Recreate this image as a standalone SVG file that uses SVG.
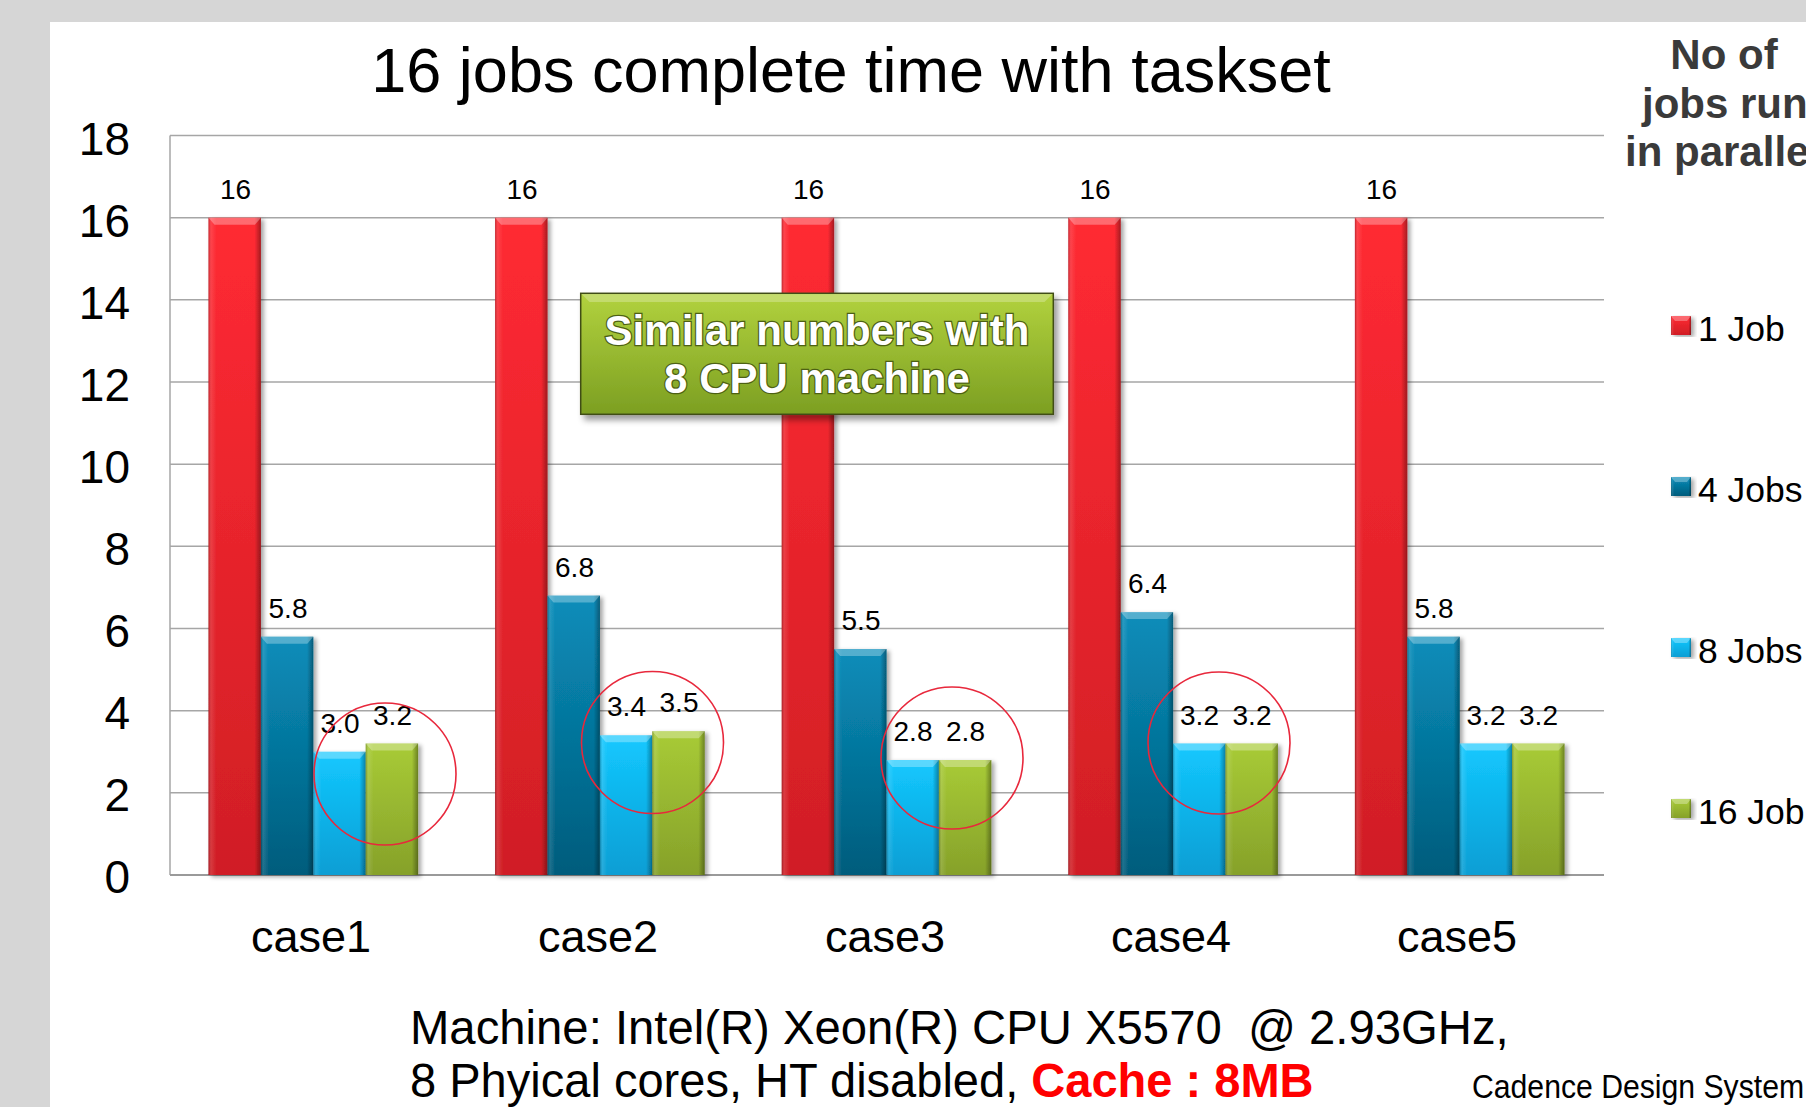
<svg xmlns="http://www.w3.org/2000/svg" width="1806" height="1107" viewBox="0 0 1806 1107">
<defs>
<linearGradient id="gRed" x1="0" y1="0" x2="0" y2="1"><stop offset="0" stop-color="#ff2a33"/><stop offset="1" stop-color="#d01e25"/></linearGradient>
<linearGradient id="gBlue" x1="0" y1="0" x2="0" y2="1"><stop offset="0" stop-color="#0a8dba"/><stop offset="1" stop-color="#005c7c"/></linearGradient>
<linearGradient id="gCyan" x1="0" y1="0" x2="0" y2="1"><stop offset="0" stop-color="#14c8ff"/><stop offset="1" stop-color="#089ed4"/></linearGradient>
<linearGradient id="gGreen" x1="0" y1="0" x2="0" y2="1"><stop offset="0" stop-color="#a8cb36"/><stop offset="1" stop-color="#86a12a"/></linearGradient>
<linearGradient id="gEdge" x1="0" y1="0" x2="1" y2="0"><stop offset="0" stop-color="#000" stop-opacity=".25"/><stop offset=".05" stop-color="#fff" stop-opacity=".12"/><stop offset=".15" stop-color="#fff" stop-opacity="0"/><stop offset=".88" stop-color="#000" stop-opacity="0"/><stop offset="1" stop-color="#000" stop-opacity=".35"/></linearGradient>
<linearGradient id="gBox" x1="0" y1="0" x2="0" y2="1"><stop offset="0" stop-color="#b2d23e"/><stop offset="1" stop-color="#7c9f22"/></linearGradient>
<filter id="sh" x="-20%" y="-5%" width="150%" height="115%"><feDropShadow dx="3" dy="2" stdDeviation="2" flood-color="#000" flood-opacity=".35"/></filter>
<filter id="shBox" x="-10%" y="-20%" width="125%" height="150%"><feDropShadow dx="4" dy="5" stdDeviation="3" flood-color="#000" flood-opacity=".4"/></filter>
</defs>
<style>
text{font-family:"Liberation Sans",Arial,sans-serif;fill:#000}
.grid{stroke:#a6a6a6;stroke-width:1.5;fill:none}
.axis{stroke:#9a9a9a;stroke-width:2;fill:none}
.ytick{font-size:46px;text-anchor:end}
.val{font-size:28px;text-anchor:middle}
.cat{font-size:45px;text-anchor:middle}
.bar{filter:url(#sh)}
.red .f{fill:url(#gRed)}
.blue .f{fill:url(#gBlue)}
.cyan .f{fill:url(#gCyan)}
.green .f{fill:url(#gGreen)}
.e{fill:url(#gEdge)}
.bev{fill:#fff;opacity:.3}
.ring{fill:none;stroke:#e8283c;stroke-width:1.6}
.lg{font-size:35.5px}
.lgt{font-size:42px;font-weight:bold;fill:#3a3a3a}
.co{font-size:42px;font-weight:bold;fill:#fff;text-anchor:middle;stroke:#4d6114;stroke-width:2.5;paint-order:stroke}
</style>
<rect x="0" y="0" width="1806" height="1107" fill="#d6d6d6"/>
<rect x="50" y="22" width="1756" height="1085" fill="#fff"/>

<g id="title"><text x="851" y="92" font-size="63" text-anchor="middle">16 jobs complete time with taskset</text></g>

<g id="axes">
<path class="grid" d="M170 135.5H1604M170 217.7H1604M170 299.8H1604M170 382H1604M170 464.2H1604M170 546.3H1604M170 628.5H1604M170 710.7H1604M170 792.8H1604M170 135.5V875"/>
<path class="axis" d="M170 875H1604"/>
<text class="ytick" x="130" y="155">18</text>
<text class="ytick" x="130" y="237">16</text>
<text class="ytick" x="130" y="319">14</text>
<text class="ytick" x="130" y="401">12</text>
<text class="ytick" x="130" y="483">10</text>
<text class="ytick" x="130" y="565">8</text>
<text class="ytick" x="130" y="647">6</text>
<text class="ytick" x="130" y="729">4</text>
<text class="ytick" x="130" y="811">2</text>
<text class="ytick" x="130" y="893">0</text>
</g>

<g id="case1">
<g class="bar red"><rect class="f" x="208.5" y="217.7" width="52.4" height="657.3"/><rect class="e" x="208.5" y="217.7" width="52.4" height="657.3"/><path class="bev" d="M208.5 217.7h52.4l-6 7h-40.4z"/></g>
<g class="bar blue"><rect class="f" x="260.9" y="636.7" width="52.4" height="238.3"/><rect class="e" x="260.9" y="636.7" width="52.4" height="238.3"/><path class="bev" d="M260.9 636.7h52.4l-6 7h-40.4z"/></g>
<g class="bar cyan"><rect class="f" x="313.3" y="751.75" width="52.4" height="123.25"/><rect class="e" x="313.3" y="751.75" width="52.4" height="123.25"/><path class="bev" d="M313.3 751.75h52.4l-6 7h-40.4z"/></g>
<g class="bar green"><rect class="f" x="365.7" y="743.5" width="52.4" height="131.5"/><rect class="e" x="365.7" y="743.5" width="52.4" height="131.5"/><path class="bev" d="M365.7 743.5h52.4l-6 7h-40.4z"/></g>
<text class="val" x="235.5" y="198.5">16</text>
<text class="val" x="288" y="617.5">5.8</text>
<text class="val" x="340" y="732.5">3.0</text>
<text class="val" x="392.5" y="724.5">3.2</text>
<text class="cat" x="311" y="952">case1</text>
</g>

<g id="case2">
<g class="bar red"><rect class="f" x="495.1" y="217.7" width="52.4" height="657.3"/><rect class="e" x="495.1" y="217.7" width="52.4" height="657.3"/><path class="bev" d="M495.1 217.7h52.4l-6 7h-40.4z"/></g>
<g class="bar blue"><rect class="f" x="547.5" y="595.6" width="52.4" height="279.4"/><rect class="e" x="547.5" y="595.6" width="52.4" height="279.4"/><path class="bev" d="M547.5 595.6h52.4l-6 7h-40.4z"/></g>
<g class="bar cyan"><rect class="f" x="599.9" y="735.3" width="52.4" height="139.7"/><rect class="e" x="599.9" y="735.3" width="52.4" height="139.7"/><path class="bev" d="M599.9 735.3h52.4l-6 7h-40.4z"/></g>
<g class="bar green"><rect class="f" x="652.3" y="731.2" width="52.4" height="143.8"/><rect class="e" x="652.3" y="731.2" width="52.4" height="143.8"/><path class="bev" d="M652.3 731.2h52.4l-6 7h-40.4z"/></g>
<text class="val" x="522" y="198.5">16</text>
<text class="val" x="574.5" y="576.5">6.8</text>
<text class="val" x="626.5" y="716">3.4</text>
<text class="val" x="679" y="712">3.5</text>
<text class="cat" x="598" y="952">case2</text>
</g>

<g id="case3">
<g class="bar red"><rect class="f" x="781.7" y="217.7" width="52.4" height="657.3"/><rect class="e" x="781.7" y="217.7" width="52.4" height="657.3"/><path class="bev" d="M781.7 217.7h52.4l-6 7h-40.4z"/></g>
<g class="bar blue"><rect class="f" x="834.1" y="649" width="52.4" height="226"/><rect class="e" x="834.1" y="649" width="52.4" height="226"/><path class="bev" d="M834.1 649h52.4l-6 7h-40.4z"/></g>
<g class="bar cyan"><rect class="f" x="886.5" y="760" width="52.4" height="115"/><rect class="e" x="886.5" y="760" width="52.4" height="115"/><path class="bev" d="M886.5 760h52.4l-6 7h-40.4z"/></g>
<g class="bar green"><rect class="f" x="938.9" y="760" width="52.4" height="115"/><rect class="e" x="938.9" y="760" width="52.4" height="115"/><path class="bev" d="M938.9 760h52.4l-6 7h-40.4z"/></g>
<text class="val" x="808.5" y="198.5">16</text>
<text class="val" x="861" y="630">5.5</text>
<text class="val" x="913" y="741">2.8</text>
<text class="val" x="965.5" y="741">2.8</text>
<text class="cat" x="885" y="952">case3</text>
</g>

<g id="case4">
<g class="bar red"><rect class="f" x="1068.3" y="217.7" width="52.4" height="657.3"/><rect class="e" x="1068.3" y="217.7" width="52.4" height="657.3"/><path class="bev" d="M1068.3 217.7h52.4l-6 7h-40.4z"/></g>
<g class="bar blue"><rect class="f" x="1120.7" y="612.1" width="52.4" height="262.9"/><rect class="e" x="1120.7" y="612.1" width="52.4" height="262.9"/><path class="bev" d="M1120.7 612.1h52.4l-6 7h-40.4z"/></g>
<g class="bar cyan"><rect class="f" x="1173.1" y="743.5" width="52.4" height="131.5"/><rect class="e" x="1173.1" y="743.5" width="52.4" height="131.5"/><path class="bev" d="M1173.1 743.5h52.4l-6 7h-40.4z"/></g>
<g class="bar green"><rect class="f" x="1225.5" y="743.5" width="52.4" height="131.5"/><rect class="e" x="1225.5" y="743.5" width="52.4" height="131.5"/><path class="bev" d="M1225.5 743.5h52.4l-6 7h-40.4z"/></g>
<text class="val" x="1095" y="198.5">16</text>
<text class="val" x="1147.5" y="593">6.4</text>
<text class="val" x="1199.5" y="724.5">3.2</text>
<text class="val" x="1252" y="724.5">3.2</text>
<text class="cat" x="1171" y="952">case4</text>
</g>

<g id="case5">
<g class="bar red"><rect class="f" x="1354.9" y="217.7" width="52.4" height="657.3"/><rect class="e" x="1354.9" y="217.7" width="52.4" height="657.3"/><path class="bev" d="M1354.9 217.7h52.4l-6 7h-40.4z"/></g>
<g class="bar blue"><rect class="f" x="1407.3" y="636.7" width="52.4" height="238.3"/><rect class="e" x="1407.3" y="636.7" width="52.4" height="238.3"/><path class="bev" d="M1407.3 636.7h52.4l-6 7h-40.4z"/></g>
<g class="bar cyan"><rect class="f" x="1459.7" y="743.5" width="52.4" height="131.5"/><rect class="e" x="1459.7" y="743.5" width="52.4" height="131.5"/><path class="bev" d="M1459.7 743.5h52.4l-6 7h-40.4z"/></g>
<g class="bar green"><rect class="f" x="1512.1" y="743.5" width="52.4" height="131.5"/><rect class="e" x="1512.1" y="743.5" width="52.4" height="131.5"/><path class="bev" d="M1512.1 743.5h52.4l-6 7h-40.4z"/></g>
<text class="val" x="1381.5" y="198.5">16</text>
<text class="val" x="1434" y="617.5">5.8</text>
<text class="val" x="1486" y="724.5">3.2</text>
<text class="val" x="1538.5" y="724.5">3.2</text>
<text class="cat" x="1457" y="952">case5</text>
</g>

<g id="callout">
<g filter="url(#shBox)"><rect x="580.7" y="293.3" width="472.6" height="121" fill="url(#gBox)" stroke="#3f4d12" stroke-width="1.5"/></g>
<path d="M581.5 294.1h471l-8 8h-455z" fill="#fff" opacity=".25"/>
<text class="co" x="817" y="345">Similar numbers with</text>
<text class="co" x="817" y="393">8 CPU machine</text>
</g>

<g id="highlights">
<circle class="ring" cx="385" cy="774" r="71"/>
<circle class="ring" cx="652.5" cy="742.5" r="71"/>
<circle class="ring" cx="952" cy="758" r="71"/>
<circle class="ring" cx="1219" cy="743" r="71"/>
</g>

<g id="legend">
<text class="lgt" x="1724" y="69" text-anchor="middle">No of</text>
<text class="lgt" x="1642" y="118">jobs run</text>
<text class="lgt" x="1625" y="166">in paralle</text>
<g class="bar red"><rect class="f" x="1671" y="316" width="20" height="19"/><rect class="e" x="1671" y="316" width="20" height="19"/><path class="bev" d="M1671 316h20l-4 5h-12z"/></g>
<text class="lg" x="1698" y="341">1 Job</text>
<g class="bar blue"><rect class="f" x="1671" y="477" width="20" height="19"/><rect class="e" x="1671" y="477" width="20" height="19"/><path class="bev" d="M1671 477h20l-4 5h-12z"/></g>
<text class="lg" x="1698" y="502">4 Jobs</text>
<g class="bar cyan"><rect class="f" x="1671" y="638" width="20" height="19"/><rect class="e" x="1671" y="638" width="20" height="19"/><path class="bev" d="M1671 638h20l-4 5h-12z"/></g>
<text class="lg" x="1698" y="663">8 Jobs</text>
<g class="bar green"><rect class="f" x="1671" y="799" width="20" height="19"/><rect class="e" x="1671" y="799" width="20" height="19"/><path class="bev" d="M1671 799h20l-4 5h-12z"/></g>
<text class="lg" x="1698" y="824">16 Job</text>
</g>

<g id="footer">
<text font-size="48" transform="translate(410 1044) scale(0.985 1)">Machine: Intel(R) Xeon(R) CPU X5570&#160; @ 2.93GHz,</text>
<text font-size="48" transform="translate(410 1097) scale(0.98 1)">8 Phyical cores, HT disabled, <tspan font-weight="bold" style="fill:#ff0000">Cache : 8MB</tspan></text>
<text font-size="33" transform="translate(1472 1098) scale(0.915 1)">Cadence Design System</text>
</g>
<g id="connectors"/>
</svg>
